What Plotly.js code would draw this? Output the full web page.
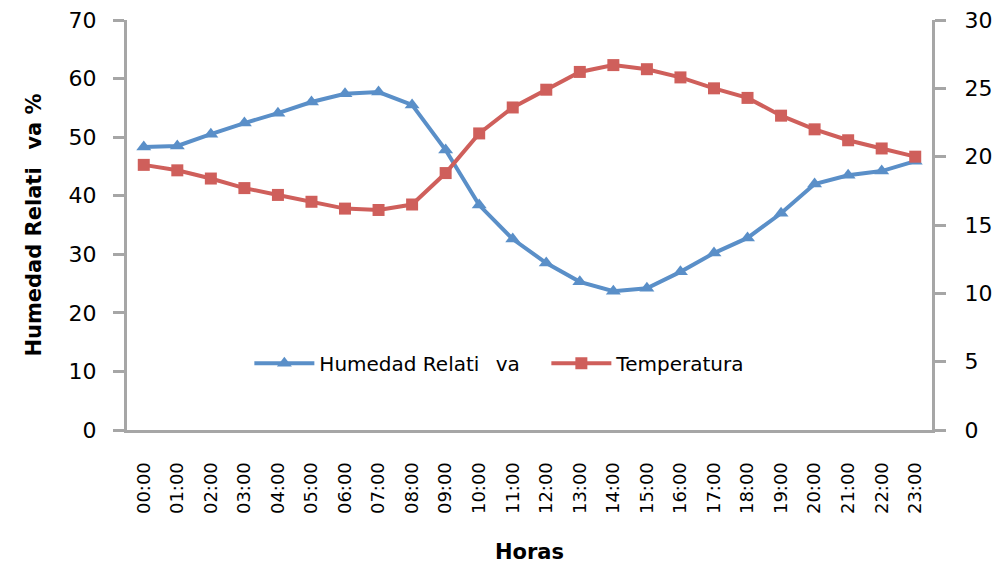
<!DOCTYPE html>
<html>
<head>
<meta charset="utf-8">
<script src="https://cdn.plot.ly/plotly-3.0.1.min.js"></script>
<style>html,body{margin:0;padding:0;background:#fff;}#chart{width:1000px;height:564px;}</style>
</head>
<body>
<div id="chart"></div>
<script>
const horas = ["00:00","01:00","02:00","03:00","04:00","05:00","06:00","07:00","08:00","09:00","10:00","11:00","12:00","13:00","14:00","15:00","16:00","17:00","18:00","19:00","20:00","21:00","22:00","23:00"];
const humedad = [48.3,48.5,50.5,52.4,54.1,56.0,57.4,57.7,55.5,47.8,38.4,32.6,28.5,25.3,23.7,24.2,27.0,30.2,32.8,37.0,42.0,43.5,44.2,45.9];
const temperatura = [19.4,19.0,18.4,17.7,17.2,16.7,16.2,16.1,16.5,18.8,21.7,23.6,24.9,26.2,26.7,26.4,25.8,25.0,24.3,23.0,22.0,21.2,20.6,20.0];
const nombreHum = "Humedad Relati\u2002 va";
const nombreTemp = "Temperatura";

const blue = "#5A8FC8", red = "#CF5F5B", axisGray = "#A6A6A6";
const traces = [
  {x: horas, y: humedad, name: nombreHum, type: "scatter", mode: "lines+markers",
   line: {color: blue, width: 4}, marker: {symbol: "triangle-up", size: 13, color: blue}},
  {x: horas, y: temperatura, name: nombreTemp, type: "scatter", mode: "lines+markers", yaxis: "y2",
   line: {color: red, width: 4}, marker: {symbol: "square", size: 12, color: red}}
];
const tickFont = {family: "DejaVu Sans", size: 22, color: "#000"};
const layout = {
  width: 1000, height: 564,
  margin: {l: 127, r: 68, t: 20, b: 134},
  paper_bgcolor: "#fff", plot_bgcolor: "#fff",
  showlegend: true,
  legend: {orientation: "h", x: 0.152, y: 0.163, yanchor: "middle", xanchor: "left",
    font: {family: "DejaVu Sans", size: 20, color: "#000"}, bgcolor: "rgba(0,0,0,0)",
    itemwidth: 60, entrywidth: 222, entrywidthmode: "pixels", tracegroupgap: 0},
  xaxis: {type: "category", range: [-0.5, 23.5], showgrid: false, zeroline: false,
    showline: true, linecolor: axisGray, linewidth: 3,
    ticks: "outside", ticklen: 22, tickcolor: "rgba(0,0,0,0)", tickangle: -90,
    tickfont: {family: "DejaVu Sans", size: 18, color: "#000"},
    title: {text: "Horas", font: {family: "DejaVu Sans", size: 21, color: "#000", weight: "bold"}, standoff: 34}},
  yaxis: {range: [0, 70], dtick: 10, showgrid: false, zeroline: false,
    showline: true, linecolor: axisGray, linewidth: 3,
    ticks: "outside", ticklen: 11, tickwidth: 3, tickcolor: axisGray, ticklabelstandoff: 12,
    tickfont: tickFont,
    title: {text: "Humedad Relati\u2002 va %", font: {family: "DejaVu Sans", size: 21, color: "#000", weight: "bold"}, standoff: 22}},
  yaxis2: {range: [0, 30], dtick: 5, overlaying: "y", side: "right", showgrid: false, zeroline: false,
    showline: true, linecolor: axisGray, linewidth: 3,
    ticks: "outside", ticklen: 11, tickwidth: 3, tickcolor: axisGray, ticklabelstandoff: 14,
    tickfont: tickFont}
};
Plotly.newPlot("chart", traces, layout, {displayModeBar: false, staticPlot: true});
</script>
</body>
</html>
